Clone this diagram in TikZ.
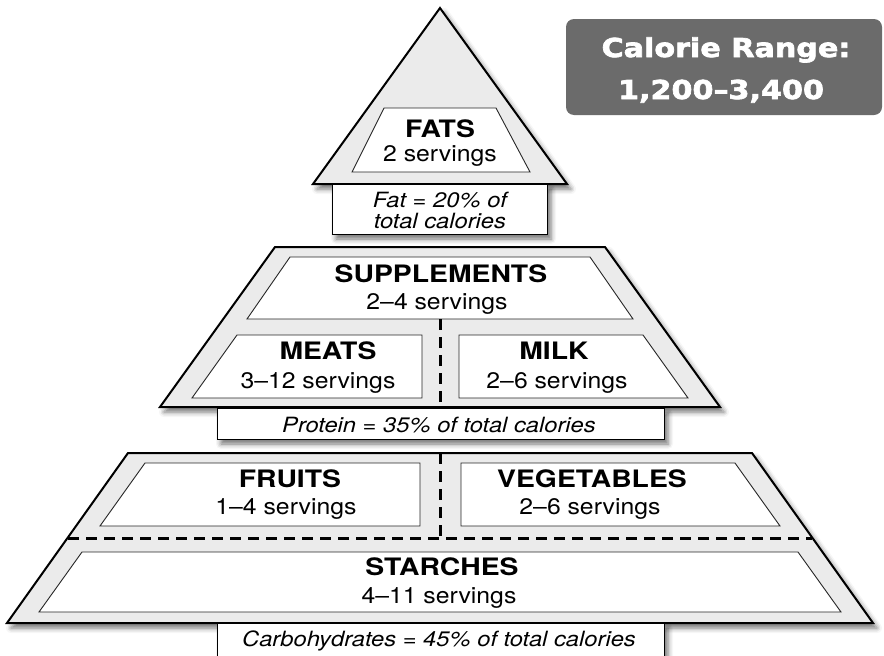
\documentclass[tikz,border=0pt]{standalone}
\usepackage{fontspec}
\setmainfont{TeX Gyre Heros}
\newfontfamily\titlefont[FakeStretch=1.18]{TeX Gyre Heros}
\newfontfamily\servfont[FakeStretch=1.1]{TeX Gyre Heros}
\newfontfamily\notefont[FakeStretch=1.13]{TeX Gyre Heros}
\newfontfamily\calfont[FakeStretch=1.16,FakeBold=2.6]{DejaVu Sans Bold}
\usetikzlibrary{shadows.blur}
\definecolor{tierfill}{HTML}{EBEBEB}
\definecolor{calgray}{HTML}{6B6B6B}
\tikzset{
  dropshadow/.style={blur shadow={shadow xshift=4pt, shadow yshift=-5pt, shadow blur radius=5pt, shadow opacity=55}},
  tier/.style={fill=tierfill, draw=black, line width=2pt, line join=miter, dropshadow},
  innerbox/.style={fill=white, draw=black!85, line width=0.9pt},
  notebox/.style={fill=white, draw=black, line width=1pt, dropshadow},
  divider/.style={draw=black, line width=3pt, dash pattern=on 11pt off 7pt},
  title/.style={font=\titlefont\bfseries\fontsize{24}{24}\selectfont, inner sep=0pt, anchor=base},
  serv/.style={font=\servfont\fontsize{22.5}{22.5}\selectfont, inner sep=0pt, anchor=base},
  note/.style={font=\notefont\itshape\fontsize{21}{21}\selectfont, inner sep=0pt, anchor=base},
  caltext/.style={font=\calfont\fontsize{26}{26}\selectfont, text=white, inner sep=0pt, anchor=base},
}
\begin{document}
\begin{tikzpicture}[x=1pt,y=-1pt]
\useasboundingbox (0,0) rectangle (884,656);

% ---- top tier (triangle)
\path[tier] (440,8) -- (567,184) -- (313,184) -- cycle;
\path[innerbox] (384,108) -- (496,108) -- (530,172) -- (352,172) -- cycle;
\node[title] (fats) at (440,137.5) {FATS};
\node[serv] (fatsserv) at (440,161.5) {2 servings};

% ---- middle tier
\path[tier] (275,247) -- (605,247) -- (720,407) -- (160,407) -- cycle;
\path[innerbox] (290,257) -- (590,257) -- (633,319) -- (247,319) -- cycle;
\path[innerbox] (237,335) -- (422,335) -- (422,398) -- (192,398) -- cycle;
\path[innerbox] (459,335) -- (643,335) -- (688,398) -- (459,398) -- cycle;
\coordinate (mtop) at (440,319);
\coordinate (mbot) at (440,407);
\draw[divider] (mtop) -- (mbot);
\node[title] (supp) at (441,282) {SUPPLEMENTS};
\node[serv] (suppserv) at (437,309) {2–4 servings};
\node[title] (meats) at (328,359) {MEATS};
\node[serv] (meatsserv) at (318,388) {3–12 servings};
\node[title] (milk) at (554,359) {MILK};
\node[serv] (milkserv) at (557,388) {2–6 servings};

% ---- bottom tier
\path[tier] (128,453) -- (752,453) -- (873,623) -- (7,623) -- cycle;
\path[innerbox] (145,463) -- (420,463) -- (420,526) -- (100,526) -- cycle;
\path[innerbox] (461,463) -- (735,463) -- (780,526) -- (461,526) -- cycle;
\path[innerbox] (82,552) -- (798,552) -- (841,612) -- (39,612) -- cycle;
\coordinate (btop) at (440,453);
\coordinate (bmid) at (440,538);
\coordinate (hl) at (68,538);
\coordinate (hr) at (812,538);
\draw[divider] (btop) -- (bmid);
\draw[divider] (hl) -- (hr);
\node[title] (fruits) at (290,487) {FRUITS};
\node[serv] (fruitsserv) at (286,514) {1–4 servings};
\node[title] (veg) at (592,487) {VEGETABLES};
\node[serv] (vegserv) at (590,514) {2–6 servings};
\node[title] (starch) at (442,575) {STARCHES};
\node[serv] (starchserv) at (439,603) {4–11 servings};

% ---- note boxes
\path[notebox] (332,184) rectangle (547,234);
\node[note] (fatnote) at (440,207) {Fat = 20\% of};
\node[note] (fatnoteb) at (440,228) {total calories};
\path[notebox] (217,408) rectangle (664,439);
\node[note] (protnote) at (439,432) {Protein = 35\% of total calories};
\path[notebox] (217,623) rectangle (664,662);
\node[note] (carbnote) at (439,646) {Carbohydrates = 45\% of total calories};

% ---- calorie range badge
\node[fill=calgray, rounded corners=8pt, minimum width=316pt, minimum height=96pt, inner sep=0pt] (cal) at (724,67) {};
\node[caltext] (cal1) at (726,57) {Calorie Range:};
\node[caltext] (cal2) at (721,99) {1,200–3,400};
\end{tikzpicture}
\end{document}
